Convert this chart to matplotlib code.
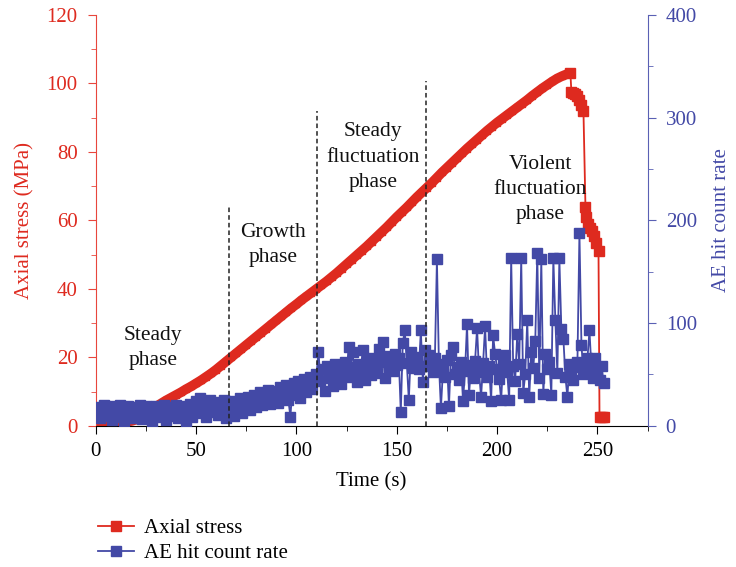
import numpy as np
import matplotlib
matplotlib.use('Agg')
import matplotlib.pyplot as plt
from matplotlib.ticker import MultipleLocator

plt.rcParams['font.family'] = ['Liberation Serif', 'DejaVu Serif']

# Axial stress (MPa), sampled every 2.5 s up to the peak
stress_t = np.arange(0, 235.1, 2.5)
stress = [0.5, 0.5, 0.6, 0.7, 0.9, 1.0, 1.2, 1.4, 1.8, 2.4,
          3.3, 4.4, 5.6, 6.5, 7.4, 8.2, 9.0, 9.8, 10.7, 11.5,
          12.4, 13.3, 14.3, 15.3, 16.4, 17.6, 18.8, 20.0, 21.2, 22.4,
          23.6, 24.8, 26.0, 27.2, 28.4, 29.6, 30.8, 32.0, 33.2, 34.4,
          35.5, 36.7, 37.8, 38.9, 40.0, 41.1, 42.2, 43.4, 44.6, 45.9,
          47.2, 48.5, 49.8, 51.1, 52.4, 53.8, 55.2, 56.6, 58.0, 59.5,
          61.0, 62.4, 63.8, 65.3, 66.8, 68.2, 69.6, 71.0, 72.5, 74.0,
          75.4, 76.8, 78.2, 79.6, 81.0, 82.3, 83.6, 84.9, 86.2, 87.4,
          88.6, 89.7, 90.8, 91.9, 93.0, 94.1, 95.2, 96.4, 97.5, 98.6,
          99.6, 100.6, 101.5, 102.2, 102.8]
# post-peak part
tail_t = [236.5, 237, 238, 239, 240, 241, 242, 243, 244, 244.5,
          245.5, 246.5, 247.5, 248.5, 249.5, 250.5, 251, 252, 253]
tail_s = [103.0, 97.5, 97.3, 97.0, 96.3, 95.2, 93.8, 92.0, 64.0, 61.0,
          59.0, 57.8, 56.8, 55.5, 53.5, 51.0, 2.5, 2.5, 2.5]

# AE hit count rate, one value per second
ae = [12, 18, 8, 15, 20, 10, 14, 19, 6, 13,
      17, 9, 20, 12, 5, 16, 19, 11, 14, 8,
      18, 13, 20, 7, 15, 19, 10, 16, 4, 14,
      19, 9, 17, 12, 20, 6, 15, 18, 10, 13,
      20, 8, 16, 11, 19, 5, 14, 21, 9, 17,
      24, 12, 27, 15, 22, 9, 18, 25, 13, 20,
      23, 11, 19, 16, 25, 8, 21, 14, 24, 10,
      22, 17, 27, 12, 25, 19, 28, 15, 23, 30,
      18, 26, 33, 20, 29, 24, 35, 21, 31, 27,
      34, 22, 38, 28, 32, 40, 25, 9, 36, 42,
      30, 44, 27, 38, 46, 33, 41, 48, 36, 45,
      50, 72, 44, 55, 34, 58, 47, 52, 39, 60,
      46, 56, 41, 53, 62, 48, 77, 57, 72, 50,
      43, 60, 52, 74, 45, 63, 55, 49, 66, 58,
      51, 75, 62, 82, 47, 68, 57, 64, 53, 70,
      59, 66, 13, 81, 93, 61, 25, 72, 56, 67,
      63, 55, 93, 43, 74, 58, 69, 62, 52, 66,
      162, 60, 17, 54, 48, 64, 19, 69, 77, 50,
      57, 45, 62, 24, 53, 99, 30, 59, 47, 63,
      95, 52, 28, 61, 97, 48, 58, 24, 88, 70,
      55, 46, 25, 63, 69, 52, 25, 163, 58, 44,
      89, 60, 163, 32, 50, 103, 28, 72, 56, 83,
      168, 47, 162, 31, 70, 55, 62, 30, 163, 103,
      51, 163, 94, 85, 48, 28, 60, 53, 45, 57,
      62, 188, 79, 50, 58, 66, 93, 55, 47, 66,
      52, 45, 58, 42]
ae_t = np.arange(len(ae))

# phase boundaries (time, top of dashed line in MPa)
bound_t = [66.5, 110.3, 164.7]
bound_top = [64.5, 92.0, 100.7]

phase_labels = ['Steady\nphase', 'Growth\nphase', 'Steady\nfluctuation\nphase',
                'Violent\nfluctuation\nphase']
label_t = [28.5, 88.5, 138, 221.5]
label_s = [22.8, 52.8, 78.5, 69.0]

red = '#DE2A1F'
red_ax = '#E8463C'
blue = '#4349A6'
blue_ax = '#5A60B4'

fig = plt.figure(figsize=(7.36, 5.67), dpi=100)
ax = fig.add_axes([0.130, 0.249, 0.750, 0.7245])
ax2 = ax.twinx()

# loading part: dense markers form a solid band
ax.plot(list(stress_t) + tail_t[:1], stress + tail_s[:1], color=red, lw=7,
        marker='s', ms=5, mec=red, mfc=red, solid_capstyle='butt')
# post-peak part
l1, = ax.plot(tail_t, tail_s, color=red, lw=1.3, marker='s', ms=7.5,
              mec=red, mfc=red, label='Axial stress')
l2, = ax2.plot(ae_t, ae, color=blue, lw=1.3, marker='s', ms=7,
               mec=blue, mfc=blue, label='AE hit count rate')

ax2.vlines(bound_t, 0, bound_top, colors='#222222', linestyles=(0, (3, 2)),
           lw=1.1, transform=ax.transData, zorder=5)

for s, x, y in zip(phase_labels, label_t, label_s):
    ax.text(x, y, s, ha='center', va='center', fontsize=15.5, color='#111111',
            linespacing=1.45)

ax.set_xlim(0, 275)
ax.set_ylim(0, 120)
ax2.set_ylim(0, 400)

ax.xaxis.set_major_locator(MultipleLocator(50))
ax.xaxis.set_minor_locator(MultipleLocator(25))
ax.yaxis.set_major_locator(MultipleLocator(20))
ax.yaxis.set_minor_locator(MultipleLocator(10))
ax2.yaxis.set_major_locator(MultipleLocator(100))
ax2.yaxis.set_minor_locator(MultipleLocator(50))

for a in (ax, ax2):
    a.spines['top'].set_visible(False)
ax.spines['right'].set_visible(False)
ax.spines['left'].set_color(red_ax)
ax2.spines['left'].set_visible(False)
ax2.spines['right'].set_color(blue_ax)
ax2.spines['bottom'].set_visible(False)

ax.tick_params(axis='x', which='major', length=6, direction='out', labelsize=15,
               pad=6)
ax.tick_params(axis='x', which='minor', length=3.5, direction='out')
ax.tick_params(axis='y', which='major', length=6, colors=red_ax, labelsize=15,
               labelcolor=red, pad=7)
ax.tick_params(axis='y', which='minor', length=3.5, colors=red_ax)
ax2.tick_params(axis='y', which='major', length=6, colors=blue_ax, labelsize=15,
                labelcolor=blue, pad=7)
ax2.tick_params(axis='y', which='minor', length=3.5, colors=blue_ax)

ax.set_xlabel('Time (s)', fontsize=15, labelpad=8)
ax.set_ylabel('Axial stress (MPa)', fontsize=15, color=red, labelpad=9)
ax2.set_ylabel('AE hit count rate', fontsize=15, color=blue, labelpad=11)

fig.legend(handles=[l1, l2], loc='upper left', bbox_to_anchor=(0.108, 0.118),
           frameon=False, fontsize=15, handlelength=1.7, labelspacing=0.25,
           handletextpad=0.5)

fig.savefig('out.png', dpi=100)
